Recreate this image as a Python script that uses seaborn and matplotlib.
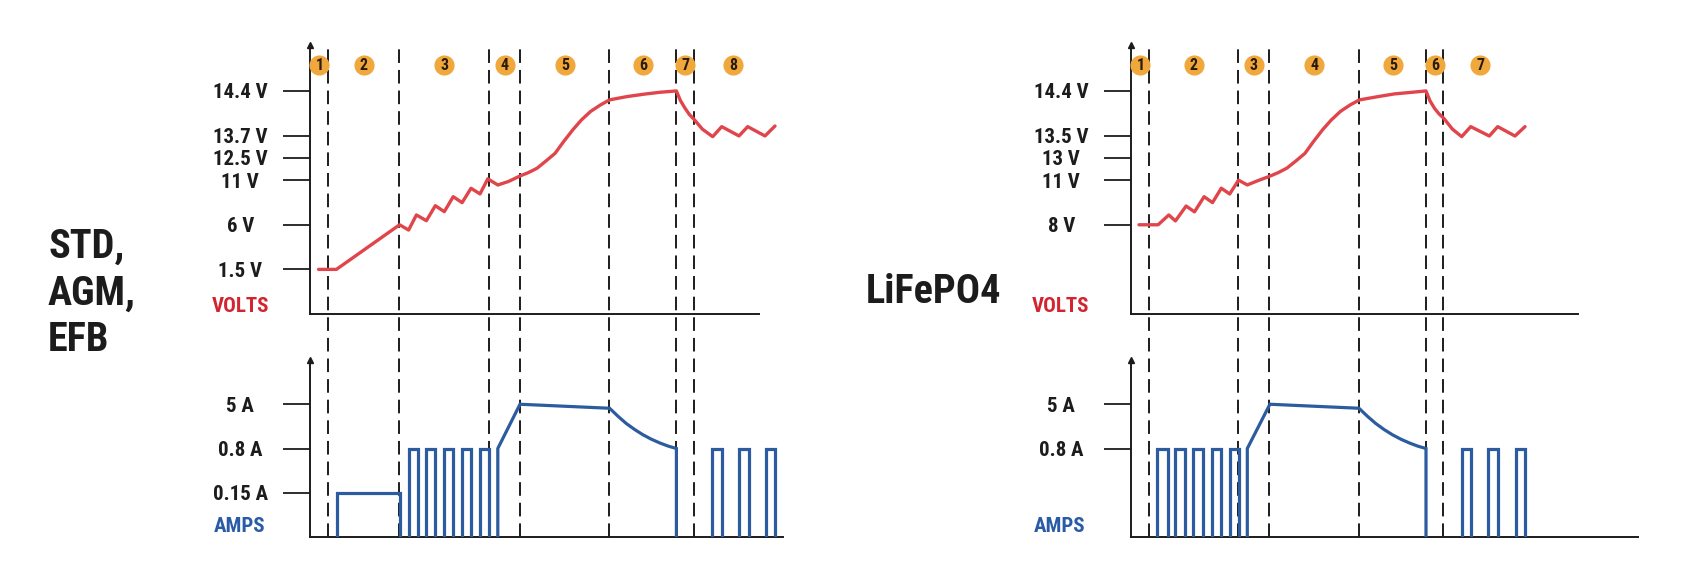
import numpy as np
import pandas as pd
import matplotlib
matplotlib.use("Agg")
import matplotlib.pyplot as plt
from matplotlib import font_manager as fm
import seaborn as sns

sns.set_theme(style="white")

# pick a condensed/narrow bold family if one is installed
_prio = ["Liberation Sans Narrow", "Roboto Condensed", "DejaVu Sans", "Noto Sans",
         "Open Sans", "Noto Sans Condensed", "Open Sans Condensed", "Lato", "Inter", "Roboto"]
_found = []
for f in fm.fontManager.ttflist:
    st = str(f.stretch).lower()
    is_cond = ("narrow" in f.name.lower() or "condensed" in f.name.lower()
               or st in ("condensed", "semi-condensed", "extra-condensed", "ultra-condensed")
               or (st.isdigit() and int(st) < 500))
    if is_cond:
        _found.append((f.name, f.stretch))
COND_FAMILY, COND_STRETCH = None, "normal"
for p in _prio:
    for n, s in _found:
        if n == p:
            COND_FAMILY, COND_STRETCH = n, s
            break
    if COND_FAMILY:
        break
if COND_FAMILY is None and _found:
    COND_FAMILY, COND_STRETCH = _found[0]
if COND_FAMILY is None:
    COND_FAMILY = "DejaVu Sans"
    SZ = 0.82
else:
    SZ = 1.0

plt.rcParams['font.family'] = [COND_FAMILY, 'DejaVu Sans']
plt.rcParams['font.stretch'] = COND_STRETCH
plt.rcParams['font.weight'] = 'bold'

# ---------------- data ----------------
std_volt_ticks = [1.5, 6, 11, 12.5, 13.7, 14.4]
std_volt_labels = ["1.5 V", "6 V", "11 V", "12.5 V", "13.7 V", "14.4 V"]
lfp_volt_ticks = [8, 11, 13, 13.5, 14.4]
lfp_volt_labels = ["8 V", "11 V", "13 V", "13.5 V", "14.4 V"]
std_amp_ticks = [0.15, 0.8, 5]
std_amp_labels = ["0.15 A", "0.8 A", "5 A"]
lfp_amp_ticks = [0.8, 5]
lfp_amp_labels = ["0.8 A", "5 A"]

std_stage_bounds = [18, 89, 179, 210, 299, 366, 384]
std_stage_end = 462
std_stages = ["1", "2", "3", "4", "5", "6", "7", "8"]
lfp_stage_bounds = [18, 107, 138, 228, 295, 312]
lfp_stage_end = 386
lfp_stages = ["1", "2", "3", "4", "5", "6", "7"]

std_volt_t = [8.2, 26, 89.2, 98.2, 106, 116, 124.9, 133.9, 142.8, 151.7, 160.6, 169.6,
              177.4, 187.4, 198, 209.6, 218, 226.6, 235, 244.6, 253, 262.4, 271, 280.3, 290,
              299.2, 316, 333.9, 350, 366, 370, 374.6, 379, 383.9, 392, 402.3, 411.3, 428.6,
              437.3, 454.6, 464.6]
std_volt_v = [1.5, 1.5, 6.0, 5.47, 7.1, 6.46, 8.14, 7.47, 9.15, 8.48, 10.09, 9.46,
              11.09, 10.46, 10.85, 11.28, 11.51, 11.8, 12.26, 12.74, 13.36, 13.79, 13.945,
              14.08, 14.18, 14.26, 14.31, 14.35, 14.38, 14.4, 14.25, 14.13, 14.03, 13.95,
              13.8, 13.64, 13.84, 13.68, 13.84, 13.68, 13.85]
lfp_volt_t = [7.6, 26.7, 37.4, 44, 54.7, 63.1, 72.7, 81.1, 89.9, 98.3, 107.1, 115.9,
              127, 138.5, 146.9, 155.5, 163.9, 173.5, 181.9, 191.3, 199.9, 209.2, 218.9, 228.1,
              245, 262.8, 278.9, 294.6, 298.6, 303.1, 307.5, 312.3, 321, 330.3, 339.3, 357.9,
              366.3, 383.6, 393.6]
lfp_volt_v = [8.0, 8.0, 8.66, 8.26, 9.26, 8.87, 9.89, 9.49, 10.46, 10.07, 11.0, 10.68,
              10.98, 11.36, 11.68, 12.08, 12.68, 13.1, 13.36, 13.62, 13.815, 13.99, 14.12,
              14.22, 14.28, 14.34, 14.37, 14.4, 14.2, 14.05, 13.94, 13.85, 13.63, 13.475,
              13.68, 13.49, 13.68, 13.49, 13.68]

std_amp_t = [26.7, 26.7, 89.2, 89.2,
             98.2, 98.2, 107.1, 107.1, 116, 116, 124.9, 124.9, 133.9, 133.9, 142.8, 142.8,
             151.7, 151.7, 160.6, 160.6, 169.6, 169.6, 178.9, 178.9,
             187.4, 187.4, 209.6, 299.2, 307.6, 315.9, 324.3, 332.6, 341, 349.3, 357.7,
             366, 366,
             401.9, 401.9, 411.9, 411.9,
             428.6, 428.6, 438.6, 438.6,
             455.3, 455.3, 464.6, 464.6]
std_amp_a = [0, 0.15, 0.15, 0,
             0, 0.8, 0.8, 0, 0, 0.8, 0.8, 0, 0, 0.8, 0.8, 0,
             0, 0.8, 0.8, 0, 0, 0.8, 0.8, 0,
             0, 0.8, 5.0, 4.62, 3.86, 3.17, 2.60, 2.10, 1.68, 1.33, 1.03,
             0.8, 0,
             0, 0.8, 0.8, 0,
             0, 0.8, 0.8, 0,
             0, 0.8, 0.8, 0]
std_amp_seg = [0, 0, 0, 0,
               1, 1, 1, 1, 2, 2, 2, 2, 3, 3, 3, 3,
               4, 4, 4, 4, 5, 5, 5, 5,
               6, 6, 6, 6, 6, 6, 6, 6, 6, 6, 6,
               6, 6,
               7, 7, 7, 7,
               8, 8, 8, 8,
               9, 9, 9, 9]
lfp_amp_t = [26, 26, 36.3, 36.3, 44, 44, 53.5, 53.5, 61.9, 61.9, 71.9, 71.9,
             80.3, 80.3, 89.9, 89.9, 98.3, 98.3, 107.1, 107.1,
             115.9, 115.9, 138.5, 227.6, 236, 244.4, 252.7, 261.1, 269.5, 277.9, 286.2,
             294.6, 294.6,
             330.3, 330.3, 339.3, 339.3,
             356.9, 356.9, 366.3, 366.3,
             384.3, 384.3, 393.6, 393.6]
lfp_amp_a = [0, 0.8, 0.8, 0, 0, 0.8, 0.8, 0, 0, 0.8, 0.8, 0,
             0, 0.8, 0.8, 0, 0, 0.8, 0.8, 0,
             0, 0.8, 5.0, 4.62, 3.86, 3.17, 2.60, 2.10, 1.68, 1.33, 1.03,
             0.8, 0,
             0, 0.8, 0.8, 0,
             0, 0.8, 0.8, 0,
             0, 0.8, 0.8, 0]
lfp_amp_seg = [0, 0, 0, 0, 1, 1, 1, 1, 2, 2, 2, 2,
               3, 3, 3, 3, 4, 4, 4, 4,
               5, 5, 5, 5, 5, 5, 5, 5, 5, 5, 5,
               5, 5,
               6, 6, 6, 6,
               7, 7, 7, 7,
               8, 8, 8, 8]

# ---------------- styling ----------------
RED = "#E0454B"
BLUE = "#2C5C9F"
BADGE = "#F0A83C"
INK = "#1c1c1c"
VOLT_RED = "#D3242F"
AMP_BLUE = "#2A5BA6"

TICK_FS = 15 * SZ
BIG_FS = 29 * SZ

W, H = 1687, 588
fig = plt.figure(figsize=(W / 100, H / 100), dpi=100)
fig.patch.set_facecolor("white")


def px_axes(x0, y_top, y_bot, width=540):
    return fig.add_axes([x0 / W, 1 - y_bot / H, width / W, (y_bot - y_top) / H])


def piecewise_scale(ax, vals, levels):
    vals = np.asarray(vals, float)
    levels = np.asarray(levels, float)
    fwd = lambda v: np.interp(v, vals, levels)
    inv = lambda l: np.interp(l, levels, vals)
    ax.set_yscale("function", functions=(fwd, inv))
    ax.set_ylim(vals[0], vals[-1])


def style_axis(ax, ticks, labels, xend, xmax=540):
    ax.set_xlim(0, xmax)
    ax.set_facecolor("none")
    for s in ["top", "right"]:
        ax.spines[s].set_visible(False)
    for s in ["left", "bottom"]:
        ax.spines[s].set_color(INK)
        ax.spines[s].set_linewidth(1.4)
    ax.spines["bottom"].set_bounds(0, xend)
    ax.set_xticks([])
    ax.set_yticks(ticks, labels)
    ax.tick_params(axis="y", direction="out", length=19.5, width=1.3,
                   color=INK, pad=31, labelsize=TICK_FS, labelcolor=INK, left=True)
    for lab in ax.get_yticklabels():
        lab.set_horizontalalignment("center")
        lab.set_fontweight("bold")
    ax.set_xlabel("")
    ax.set_ylabel("")
    ax.grid(False)
    ax.plot([0], [1], marker="^", ms=5, color=INK, transform=ax.transAxes, clip_on=False)


def panel(x0, volt_vals, volt_levels, vticks, vlabels, vt, vv,
          aticks, alabels, at, aa, aseg, bounds, stage_end, stages,
          vend, aend, label_x):
    axv = px_axes(x0, 45, 314)
    axa = px_axes(x0, 360, 537)
    piecewise_scale(axv, volt_vals, volt_levels)
    piecewise_scale(axa, [0, 0.15, 0.8, 5, 7], [0, 1, 2, 3, 4])

    dv = pd.DataFrame({"t": vt, "v": vv})
    sns.lineplot(data=dv, x="t", y="v", ax=axv, color=RED, lw=2.4, sort=False,
                 estimator=None, solid_capstyle="round", solid_joinstyle="round", zorder=3)
    da = pd.DataFrame({"t": at, "a": aa, "seg": aseg})
    sns.lineplot(data=da, x="t", y="a", units="seg", ax=axa, color=BLUE, lw=2.3,
                 sort=False, estimator=None, legend=False, solid_joinstyle="miter", zorder=3)

    style_axis(axv, vticks, vlabels, vend)
    style_axis(axa, aticks, alabels, aend)

    ymin = -(537 - 314) / (314 - 45)
    for b in bounds:
        axv.axvline(b, ymin=ymin, ymax=1, clip_on=False, color=INK, lw=1.4,
                    ls=(0, (7, 3.6)), zorder=1)

    edges = [0] + list(bounds) + [stage_end]
    mids = [(edges[i] + edges[i + 1]) / 2 for i in range(len(stages))]
    ybadge = (314 - 65) / (314 - 45)
    tr = axv.get_xaxis_transform()
    axv.scatter(mids, [ybadge] * len(mids), s=210, color=BADGE, transform=tr,
                clip_on=False, zorder=4, linewidths=0)
    for m, s in zip(mids, stages):
        axv.text(m, ybadge, s, transform=tr, ha="center", va="center",
                 fontsize=11.5 * SZ, fontweight="bold", color="#2a1c0c", zorder=5)

    fig.text(label_x / W, 1 - 306.7 / H, "VOLTS", color=VOLT_RED, ha="center",
             va="center", fontsize=TICK_FS, fontweight="bold")
    fig.text(label_x / W, 1 - 526 / H, "AMPS", color=AMP_BLUE, ha="center",
             va="center", fontsize=TICK_FS, fontweight="bold")


panel(310.4, [0, 1.5, 6, 11, 12.5, 13.7, 14.4, 15.1], [0, 1, 2, 3, 3.5, 4, 5, 6.03],
      std_volt_ticks, std_volt_labels, std_volt_t, std_volt_v,
      std_amp_ticks, std_amp_labels, std_amp_t, std_amp_a, std_amp_seg,
      std_stage_bounds, std_stage_end, std_stages, vend=449, aend=473, label_x=240)

panel(1131.4, [0, 8, 11, 13, 13.5, 14.4, 15.1], [0, 2, 3, 3.5, 4, 5, 6.03],
      lfp_volt_ticks, lfp_volt_labels, lfp_volt_t, lfp_volt_v,
      lfp_amp_ticks, lfp_amp_labels, lfp_amp_t, lfp_amp_a, lfp_amp_seg,
      lfp_stage_bounds, lfp_stage_end, lfp_stages, vend=447, aend=507, label_x=1060)

fig.text(48 / W, 1 - 293.3 / H, "STD,\nAGM,\nEFB", ha="left", va="center",
         fontsize=BIG_FS, fontweight="bold", color=INK, linespacing=1.3)
fig.text(933.8 / W, 1 - 291.7 / H, "LiFePO4", ha="center", va="center",
         fontsize=BIG_FS, fontweight="bold", color=INK)

fig.savefig("out.png", dpi=100, facecolor="white")
